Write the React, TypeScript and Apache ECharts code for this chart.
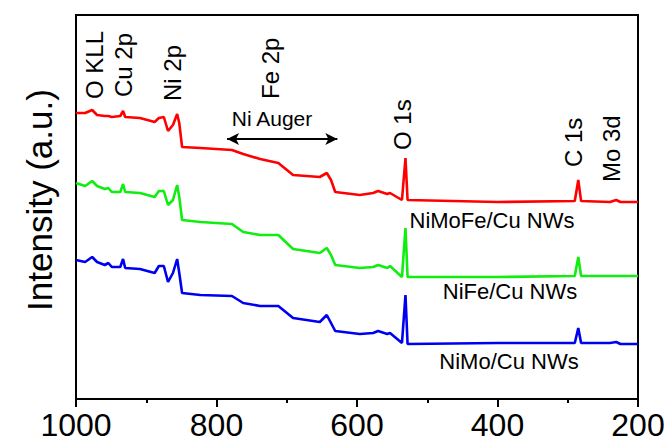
import React, { useEffect, useRef } from "react";
import * as echarts from "echarts";

// Binding energy (eV) sampling points
const energy = [1000, 987, 977, 970, 959, 954, 949, 937, 933, 930, 909, 888, 882, 875, 869, 862, 856, 853, 849, 823, 778, 762, 738, 712, 691, 653, 643, 637, 631, 596, 577, 570, 557, 553, 536, 531, 528, 400, 290, 285, 281, 240, 231, 225, 200];

// Intensity (a.u., offset stacked)
const niMoFe = [286, 286, 289, 284, 283, 283, 282, 283, 288, 282, 281, 277, 281, 282, 268, 274, 285, 276, 252, 251, 249, 245, 240, 236, 224, 222, 226, 219, 207, 204, 206, 208, 205, 206, 199, 241, 199, 197, 198, 219, 198, 197, 199, 197, 197];
const niFe = [216, 213, 218, 213, 210, 211, 207, 207, 215, 207, 206, 202, 208, 208, 194, 199, 214, 202, 179, 177, 175, 167, 164, 164, 150, 146, 151, 144, 134, 131, 132, 134, 131, 133, 122, 171, 122, 122, 123, 142, 123, 123, 123, 123, 123];
const niMo = [139, 137, 142, 137, 134, 136, 132, 132, 140, 131, 130, 126, 133, 133, 117, 126, 140, 126, 106, 104, 103, 96, 93, 93, 81, 77, 84, 76, 68, 65, 66, 68, 65, 66, 56, 104, 55, 56, 56, 71, 56, 56, 57, 55, 55];

const seriesNames = ["NiMoFe/Cu NWs", "NiFe/Cu NWs", "NiMo/Cu NWs"];
const seriesColors = ["#ff0000", "#10ee10", "#0000f0"];

const xTicks = [1000, 800, 600, 400, 200];
const yTitle = "Intensity (a.u.)";

const FONT = "'Liberation Sans', Arial, Helvetica, sans-serif";

export default function App() {
  const ref = useRef<HTMLDivElement>(null);

  useEffect(() => {
    if (!ref.current) return;
    const chart = echarts.init(ref.current, undefined, { renderer: "svg" });
    const allData = [niMoFe, niFe, niMo];

    const vText = (text: string, x: number, y: number, size = 24, align = "left") => ({
      type: "text",
      x,
      y,
      rotation: Math.PI / 2,
      silent: true,
      style: {
        text,
        x: 0,
        y: 0,
        fontSize: size,
        fontFamily: FONT,
        fill: "#000",
        align,
        verticalAlign: "middle",
      },
    });
    const hText = (text: string, x: number, y: number, size: number) => ({
      type: "text",
      x,
      y,
      silent: true,
      style: {
        text,
        x: 0,
        y: 0,
        fontSize: size,
        fontFamily: FONT,
        fill: "#000",
        align: "center",
        verticalAlign: "middle",
      },
    });

    chart.setOption({
      animation: false,
      backgroundColor: "#ffffff",
      grid: {
        left: 76,
        right: 32,
        top: 15,
        bottom: 44,
        show: true,
        borderColor: "#000",
        borderWidth: 2,
        backgroundColor: "transparent",
      },
      xAxis: {
        type: "value",
        min: xTicks[xTicks.length - 1],
        max: xTicks[0],
        interval: 200,
        inverse: true,
        axisLine: { show: true, lineStyle: { color: "#000", width: 2 } },
        axisTick: { show: true, inside: false, length: 8, lineStyle: { color: "#000", width: 2 } },
        minorTick: { show: true, splitNumber: 2, length: 4, lineStyle: { color: "#000", width: 2 } },
        splitLine: { show: false },
        axisLabel: {
          color: "#000",
          fontSize: 32,
          fontFamily: FONT,
          margin: 10,
          formatter: (v: number) => String(v),
        },
      },
      yAxis: {
        type: "value",
        min: 0,
        max: 384,
        axisLine: { show: true, lineStyle: { color: "#000", width: 2 } },
        axisTick: { show: false },
        axisLabel: { show: false },
        splitLine: { show: false },
      },
      series: allData.map((vals, i) => ({
        name: seriesNames[i],
        type: "line",
        data: energy.map((e, k) => [e, vals[k]]),
        showSymbol: false,
        symbol: "none",
        lineStyle: { color: seriesColors[i], width: 2.6 },
        itemStyle: { color: seriesColors[i] },
        silent: true,
        markLine:
          i === 0
            ? {
                silent: true,
                symbol: ["arrow", "arrow"],
                symbolSize: [9, 12],
                label: { show: false },
                lineStyle: { color: "#000", width: 2, type: "solid" },
                itemStyle: { color: "#000" },
                data: [[{ coord: [785, 260] }, { coord: [628, 260] }]],
              }
            : undefined,
      })),
      graphic: [
        vText(yTitle, 39, 200, 35, "center"),
        vText("O KLL", 94, 99),
        vText("Cu 2p", 123, 97),
        vText("Ni 2p", 172, 101),
        vText("Fe 2p", 270, 99),
        vText("O 1s", 402, 150),
        vText("C 1s", 573, 167),
        vText("Mo 3d", 611, 182),
        hText("Ni Auger", 272, 118, 21),
        hText(seriesNames[0], 492, 220, 22),
        hText(seriesNames[1], 510, 291, 22),
        hText(seriesNames[2], 509, 361, 22),
      ],
    });

    return () => chart.dispose();
  }, []);

  return (
    <div
      ref={ref}
      style={{ position: "fixed", left: 0, top: 0, width: 670, height: 443, background: "#fff" }}
    />
  );
}
